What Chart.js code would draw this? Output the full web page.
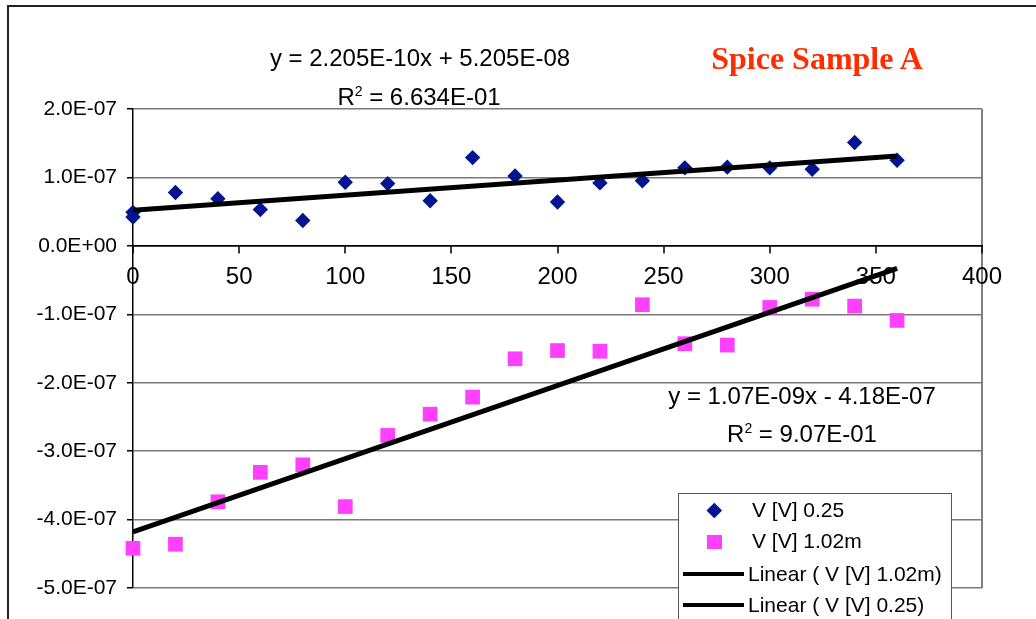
<!DOCTYPE html>
<html>
<head>
<meta charset="utf-8">
<script src="https://cdn.jsdelivr.net/npm/chart.js@4"></script>
<style>
  body { margin: 0; background: #fff; }
  #wrap { position: relative; width: 1036px; height: 619px; overflow: hidden; font-family: "Liberation Sans", Arial, sans-serif; }
  #frame { position: absolute; left: 7px; top: 5px; width: 1100px; height: 700px; border: 2px solid #222; pointer-events: none; }
  .eq { position: absolute; font-size: 24px; line-height: 1; white-space: nowrap; transform: translateX(-50%); color: #000; }
  .eq sup { font-size: 14px; line-height: 0; vertical-align: 9px; }
  #title { position: absolute; left: 817px; top: 42px; transform: translateX(-50%); font-family: "Liberation Serif", "Times New Roman", serif; font-weight: bold; font-size: 32px; line-height: 1; color: #ff2c00; white-space: nowrap; }
  #legend { position: absolute; left: 678px; top: 493px; width: 272px; height: 200px; border: 1px solid #555; background: #fff; }
  #legend .txt { position: absolute; font-size: 21px; line-height: 1; white-space: nowrap; }
  #legend .mk { position: absolute; }
</style>
</head>
<body>
<div id="wrap">
  <canvas id="graphic" width="1036" height="619"></canvas>
  <div id="frame"></div>
  <div class="eq" style="left:420px;top:46px">y = 2.205E-10x + 5.205E-08</div>
  <div class="eq" style="left:419px;top:85px">R<sup>2</sup> = 6.634E-01</div>
  <div class="eq" style="left:802px;top:384px">y = 1.07E-09x - 4.18E-07</div>
  <div class="eq" style="left:802px;top:422px">R<sup>2</sup> = 9.07E-01</div>
  <div id="title">Spice Sample A</div>
  <div id="legend"></div>
</div>
<script>
// x values (first series has two readings at 0)
const xA = [0, 0, 20, 40, 60, 80, 100, 120, 140, 160, 180, 200, 220, 240, 260, 280, 300, 320, 340, 360]
const vA = [4.9e-8, 4.2e-8, 7.8e-8, 6.9e-8, 5.3e-8, 3.7e-8, 9.3e-8, 9.1e-8, 6.6e-8, 1.29e-7, 1.02e-7,
  6.4e-8, 9.2e-8, 9.5e-8, 1.14e-7, 1.15e-7, 1.14e-7, 1.12e-7, 1.51e-7, 1.25e-7]

const xB = [0, 20, 40, 60, 80, 100, 120, 140, 160, 180, 200, 220, 240, 260, 280, 300, 320, 340, 360]
const vB = [-4.42e-7, -4.36e-7, -3.74e-7, -3.31e-7, -3.20e-7, -3.81e-7, -2.77e-7, -2.46e-7, -2.21e-7, -1.65e-7,
  -1.53e-7, -1.54e-7, -0.86e-7, -1.43e-7, -1.45e-7, -0.90e-7, -0.78e-7, -0.88e-7, -1.09e-7]

// trend line ends
const trendX = [0, 360]
const trendA = [5.205e-8, 1.3143e-7]
const trendB = [-4.18e-7, -3.28e-8]

const seriesNames = ['V [V] 0.25', 'V [V] 1.02m', 'Linear ( V [V] 1.02m)', 'Linear ( V [V] 0.25)']
const xTicks = [0, 50, 100, 150, 200, 250, 300, 350, 400]
const yTicks = [-5e-7, -4e-7, -3e-7, -2e-7, -1e-7, 0, 1e-7, 2e-7]

const blue = '#00158f'
const pink = '#ff40ff'

const pts = (xs, ys) => xs.map((x, i) => ({ x: x, y: ys[i] }))

function sci(v) {
  if (Math.abs(v) < 1e-12) v = 0
  const parts = v.toExponential(1).split('e')
  const e = parts[1]
  return parts[0] + 'E' + e[0] + e.slice(1).padStart(2, '0')
}

const ctx = document.querySelector('#graphic').getContext('2d')

new Chart(ctx, {
  type: 'scatter',
  data: {
    datasets: [
      { label: seriesNames[3], type: 'line', data: pts(trendX, trendA), borderColor: '#000', borderWidth: 5, pointRadius: 0, order: 0 },
      { label: seriesNames[2], type: 'line', data: pts(trendX, trendB), borderColor: '#000', borderWidth: 5, pointRadius: 0, order: 0 },
      { label: seriesNames[0], data: pts(xA, vA), pointStyle: 'rectRot', pointRadius: 7.7, backgroundColor: blue, borderColor: blue, borderWidth: 0, clip: false, order: 1 },
      { label: seriesNames[1], data: pts(xB, vB), pointStyle: 'rect', pointRadius: 10.4, backgroundColor: pink, borderColor: pink, borderWidth: 0, clip: false, order: 2 }
    ]
  },
  options: {
    responsive: false,
    animation: false,
    layout: { padding: { left: 8, top: 109, right: 54, bottom: 31 } },
    plugins: { legend: { display: false }, tooltip: { enabled: false } },
    scales: {
      x: {
        type: 'linear',
        position: { y: 0 },
        min: 0,
        max: 400,
        afterBuildTicks: (scale) => { scale.ticks = xTicks.map(v => ({ value: v })) },
        ticks: { color: '#000', padding: 10, maxRotation: 0, font: { size: 24, family: 'Liberation Sans' } },
        grid: {
          color: (c) => c.tick && c.tick.value === 400 ? '#808080' : 'rgba(0,0,0,0)',
          lineWidth: 2,
          tickColor: '#000',
          tickWidth: 1.5,
          tickLength: 7
        },
        border: { display: true, color: '#000', width: 1.5 }
      },
      y: {
        type: 'linear',
        min: -5e-7,
        max: 2e-7,
        afterBuildTicks: (scale) => { scale.ticks = yTicks.map(v => ({ value: v })) },
        afterFit: (scale) => { scale.width = 125 },
        ticks: { color: '#000', padding: 10, font: { size: 21, family: 'Liberation Sans' }, callback: (v) => sci(v) },
        grid: {
          color: (c) => c.tick && Math.abs(c.tick.value) < 1e-12 ? '#000' : '#7a7a7a',
          lineWidth: 1.5,
          tickColor: '#000',
          tickWidth: 1.5,
          tickLength: 6
        },
        border: { display: true, color: '#000', width: 1.5 }
      }
    }
  }
})

// legend box, drawn as html text
const legend = document.querySelector('#legend')
const rows = [
  { top: 5, mark: 'diamond' },
  { top: 36, mark: 'square' },
  { top: 69, mark: 'line' },
  { top: 100, mark: 'line' }
]
rows.forEach((row, i) => {
  const txt = document.createElement('div')
  txt.className = 'txt'
  txt.textContent = seriesNames[i]
  txt.style.top = row.top + 'px'
  txt.style.left = (row.mark === 'line' ? 69 : 73) + 'px'
  legend.appendChild(txt)

  const mk = document.createElement('div')
  mk.className = 'mk'
  if (row.mark === 'diamond') {
    Object.assign(mk.style, { left: '30px', top: (row.top + 6) + 'px', width: '10.6px', height: '10.6px', background: blue, transform: 'rotate(45deg)' })
  } else if (row.mark === 'square') {
    Object.assign(mk.style, { left: '28px', top: (row.top + 5) + 'px', width: '15px', height: '14px', background: pink })
  } else {
    Object.assign(mk.style, { left: '4px', top: (row.top + 9) + 'px', width: '61px', height: '4px', background: '#000' })
  }
  legend.appendChild(mk)
})
</script>
</body>
</html>
